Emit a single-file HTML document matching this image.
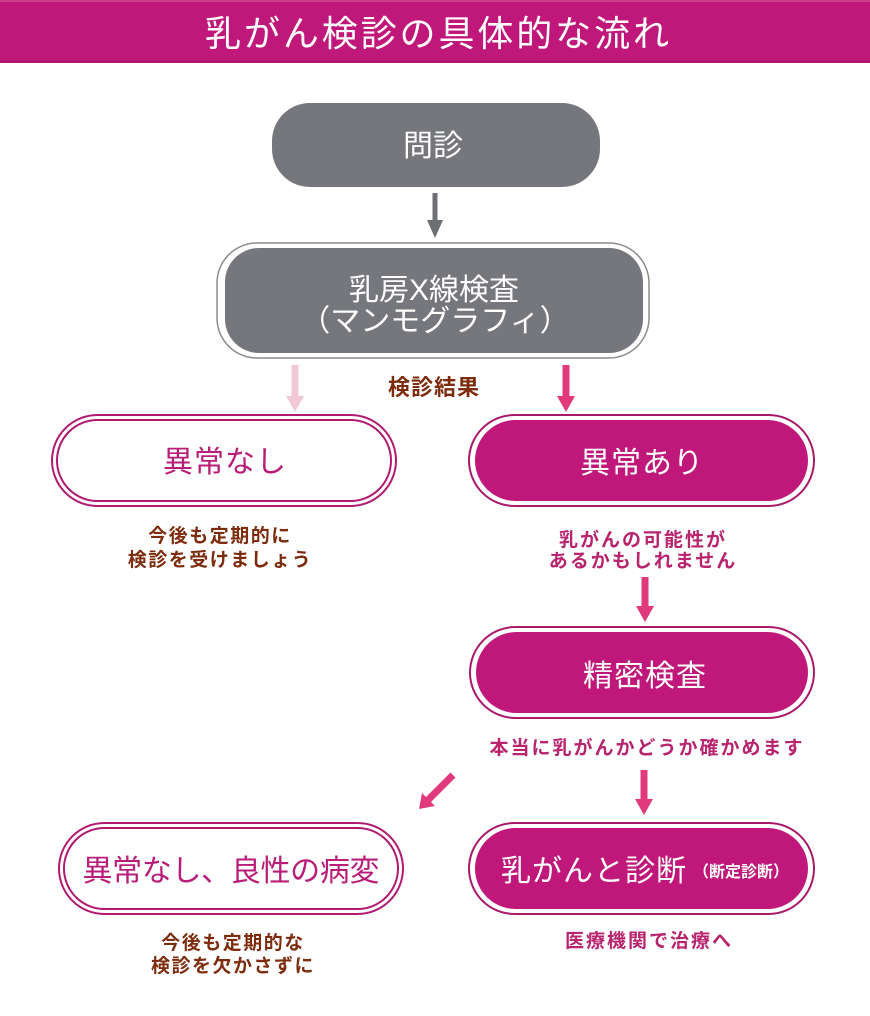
<!DOCTYPE html>
<html><head><meta charset="utf-8"><style>
html,body{margin:0;padding:0;background:#fff;}
svg{display:block;}
text{font-family:"Liberation Sans","Noto Sans CJK JP",sans-serif;}
</style></head><body>
<svg width="870" height="1016" viewBox="0 0 870 1016" xmlns="http://www.w3.org/2000/svg">
<rect x="0" y="0" width="870" height="63" fill="#c0187a"/>
<rect x="0" y="0" width="870" height="2" fill="#cf3d8c"/>
<rect x="0" y="60" width="870" height="3" fill="#b01470"/>
<text x="437" y="46" font-size="36" fill="#fff" text-anchor="middle" textLength="464" lengthAdjust="spacing">乳がん検診の具体的な流れ</text>

<!-- 問診 -->
<rect x="272" y="103" width="328" height="84" rx="38" fill="#76777c"/>
<text x="433" y="156" font-size="30" fill="#fff" text-anchor="middle">問診</text>
<path d="M432.5 193 H437.5 V220 H443 L435 238 L427 220 H432.5 Z" fill="#6e6f73"/>

<!-- 乳房X線検査 -->
<rect x="217" y="243" width="432" height="115" rx="40" fill="#fff" stroke="#8c8c8c" stroke-width="1.5"/>
<rect x="225" y="248" width="418" height="105" rx="34" fill="#76777c"/>
<text x="434" y="300" font-size="30" fill="#fff" text-anchor="middle">乳房X線検査</text>
<text x="435" y="331" font-size="30" fill="#fff" text-anchor="middle">（マンモグラフィ）</text>

<path d="M291.5 365 H298.5 V396 H304 L295 412 L286 396 H291.5 Z" fill="#f2c8d9"/>
<path d="M562.5 365 H569.5 V396 H575 L566 412 L557 396 H562.5 Z" fill="#e03a7c"/>
<text x="434" y="395" font-size="22" font-weight="700" fill="#7d2c0e" text-anchor="middle" letter-spacing="1">検診結果</text>

<!-- 異常なし -->
<rect x="52" y="415" width="344" height="91" rx="45.5" fill="#fff" stroke="#b01a70" stroke-width="2"/>
<rect x="57" y="420" width="334" height="81" rx="40.5" fill="none" stroke="#b01a70" stroke-width="2"/>
<text x="225" y="472" font-size="30" fill="#b81d78" text-anchor="middle" letter-spacing="1">異常なし</text>
<text x="220" y="542" font-size="19" font-weight="700" fill="#7d2c0e" text-anchor="middle" letter-spacing="1.5">今後も定期的に</text>
<text x="220" y="566" font-size="19" font-weight="700" fill="#7d2c0e" text-anchor="middle" letter-spacing="1.5">検診を受けましょう</text>

<!-- 異常あり -->
<rect x="469" y="415" width="345" height="91" rx="45.5" fill="#fff" stroke="#a8196a" stroke-width="2"/>
<rect x="475" y="420" width="333" height="81" rx="40.5" fill="#c0177a"/>
<text x="642" y="473" font-size="30" fill="#fff" text-anchor="middle" letter-spacing="1">異常あり</text>
<text x="643" y="546" font-size="19" font-weight="700" fill="#b8246e" text-anchor="middle" letter-spacing="2">乳がんの可能性が</text>
<text x="643" y="567" font-size="19" font-weight="700" fill="#b8246e" text-anchor="middle" letter-spacing="2">あるかもしれません</text>
<path d="M641.5 577 H648.5 V606 H654 L645 622 L636 606 H641.5 Z" fill="#e03a7c"/>

<!-- 精密検査 -->
<rect x="470" y="627" width="344" height="91" rx="45.5" fill="#fff" stroke="#a8196a" stroke-width="2"/>
<rect x="476" y="632" width="332" height="81" rx="40.5" fill="#c0177a"/>
<text x="645" y="686" font-size="30" fill="#fff" text-anchor="middle" letter-spacing="1">精密検査</text>
<text x="647" y="754" font-size="19" font-weight="700" fill="#b8246e" text-anchor="middle" letter-spacing="2">本当に乳がんかどうか確かめます</text>

<path d="M640.5 770 H647.5 V799 H653 L644 815 L635 799 H640.5 Z" fill="#e03a7c"/>
<path d="M450.5 772.5 L455.5 777.5 L431 802 L435 806 L419 809 L422 793 L426 797 Z" fill="#e03a7c"/>

<!-- 良性 -->
<rect x="59" y="823" width="344" height="91" rx="45.5" fill="#fff" stroke="#b01a70" stroke-width="2"/>
<rect x="64" y="828" width="334" height="81" rx="40.5" fill="none" stroke="#b01a70" stroke-width="2"/>
<text x="231" y="881" font-size="30" fill="#b81d78" text-anchor="middle" textLength="297" lengthAdjust="spacing">異常なし、良性の病変</text>
<text x="233" y="949" font-size="19" font-weight="700" fill="#7d2c0e" text-anchor="middle" letter-spacing="1.5">今後も定期的な</text>
<text x="233" y="972" font-size="19" font-weight="700" fill="#7d2c0e" text-anchor="middle" letter-spacing="1.5">検診を欠かさずに</text>

<!-- 乳がんと診断 -->
<rect x="469" y="823" width="345" height="91" rx="45.5" fill="#fff" stroke="#a8196a" stroke-width="2"/>
<rect x="475" y="828" width="333" height="81" rx="40.5" fill="#c0177a"/>
<text x="594" y="881" font-size="30" fill="#fff" text-anchor="middle" letter-spacing="1">乳がんと診断</text>
<text x="741" y="877" font-size="16" font-weight="700" fill="#fff" text-anchor="middle">（断定診断）</text>
<text x="649" y="947" font-size="19" font-weight="700" fill="#b8246e" text-anchor="middle" letter-spacing="2">医療機関で治療へ</text>
</svg>
</body></html>
